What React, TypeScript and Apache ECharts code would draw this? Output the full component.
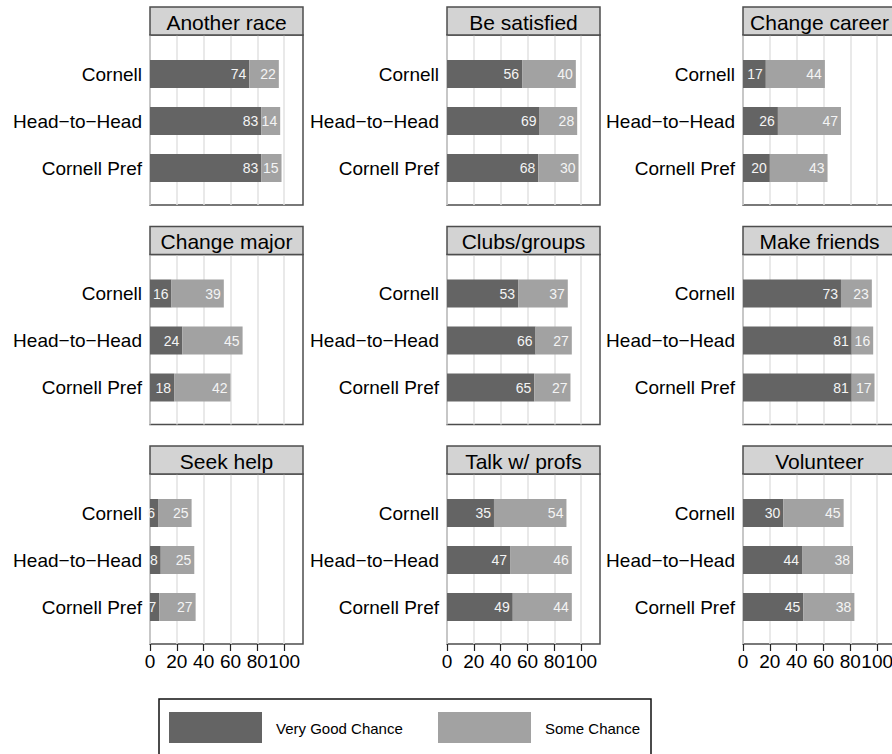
import React, { useEffect, useRef } from "react";
import * as echarts from "echarts";

// Panel titles, in reading order (3 x 3)
const panelTitles = [
  "Another race", "Be satisfied", "Change career",
  "Change major", "Clubs/groups", "Make friends",
  "Seek help", "Talk w/ profs", "Volunteer",
];

// Rows within every panel, top to bottom
const categories = ["Cornell", "Head\u2212to\u2212Head", "Cornell Pref"];

// Percent answering "Very Good Chance", per panel: [Cornell, Head-to-Head, Cornell Pref]
const veryGoodChance = [
  [74, 83, 83], [56, 69, 68], [17, 26, 20],
  [16, 24, 18], [53, 66, 65], [73, 81, 81],
  [6, 8, 7], [35, 47, 49], [30, 44, 45],
];

// Percent answering "Some Chance", same layout
const someChance = [
  [22, 14, 15], [40, 28, 30], [44, 47, 43],
  [39, 45, 42], [37, 27, 27], [23, 16, 17],
  [25, 25, 27], [54, 46, 44], [45, 38, 38],
];

const seriesNames = ["Very Good Chance", "Some Chance"];
const xTicks = [0, 20, 40, 60, 80, 100];

const FONT = '"Liberation Sans", Arial, Helvetica, sans-serif';
const DARK = "#646464";
const LIGHT = "#a2a2a2";
const BORDER = "#4d4d4d";

// panel geometry (the third column runs past the visible 892px frame)
const COL_X = [150, 447, 743];
const ROW_Y = [7, 226.5, 446];
const PLOT_W = 153;
const STRIP_H = 28;
const PLOT_H = 170;
const X_MAX = 114;
const CANVAS_W = 930;

function buildOption() {
  const grid: any[] = [];
  const xAxis: any[] = [];
  const yAxis: any[] = [];
  const series: any[] = [];
  const graphic: any[] = [];

  panelTitles.forEach((title, p) => {
    const row = Math.floor(p / 3);
    const col = p % 3;
    const left = COL_X[col];
    const stripTop = ROW_Y[row];
    const plotTop = stripTop + STRIP_H;
    const bottomRow = row === 2;

    // outer grid: panel frame, vertical reference lines, x axis
    const outer = grid.length;
    grid.push({
      left, top: plotTop, width: PLOT_W, height: PLOT_H,
      show: true, borderColor: BORDER, borderWidth: 1.5,
      backgroundColor: "transparent",
    });
    xAxis.push({
      type: "value", gridIndex: outer, min: 0, max: X_MAX, interval: 20,
      axisLine: { show: false },
      splitLine: { show: true, lineStyle: { color: "#e2e2e2", width: 1.5 } },
      axisTick: {
        show: bottomRow, length: 7, customValues: xTicks,
        lineStyle: { color: "#222", width: 1.2 },
      },
      axisLabel: {
        show: bottomRow, customValues: xTicks,
        fontSize: 19, fontFamily: FONT, color: "#000", margin: 8,
      },
    });
    yAxis.push({ type: "value", gridIndex: outer, min: 0, max: 1, show: false });

    // inner grid: the three bars
    const inner = grid.length;
    grid.push({ left, top: plotTop + 15.5, width: PLOT_W, height: 141 });
    xAxis.push({ type: "value", gridIndex: inner, min: 0, max: X_MAX, show: false });
    yAxis.push({
      type: "category", gridIndex: inner, data: categories, inverse: true,
      axisLine: { show: false }, axisTick: { show: false }, splitLine: { show: false },
      axisLabel: { fontSize: 19, fontFamily: FONT, color: "#000", margin: 8 },
    });

    [veryGoodChance[p], someChance[p]].forEach((vals, s) => {
      series.push({
        type: "bar", name: seriesNames[s],
        xAxisIndex: inner, yAxisIndex: inner, stack: "panel" + p,
        data: vals, barWidth: 28,
        itemStyle: { color: s === 0 ? DARK : LIGHT },
        label: {
          show: true, position: "insideRight", distance: 3,
          color: "#f4f4f4", fontSize: 14, fontFamily: FONT,
        },
      });
    });

    // strip with panel title
    graphic.push({
      type: "rect", z: 10,
      shape: { x: left, y: stripTop, width: PLOT_W, height: STRIP_H },
      style: { fill: "#d3d3d3", stroke: BORDER, lineWidth: 1.5 },
    });
    graphic.push({
      type: "text", z: 11, x: left + PLOT_W / 2, y: stripTop + STRIP_H / 2 + 1,
      style: {
        text: title, font: `21px ${FONT}`, fill: "#000",
        textAlign: "center", textVerticalAlign: "middle",
      },
    });
  });

  // legend box at the bottom
  graphic.push({
    type: "rect", z: 10,
    shape: { x: 159, y: 699, width: 492, height: 80 },
    style: { fill: "#fff", stroke: "#111", lineWidth: 1.5 },
  });
  const legendItems = [
    { x: 169, textX: 276, color: DARK, name: seriesNames[0] },
    { x: 438, textX: 545, color: LIGHT, name: seriesNames[1] },
  ];
  legendItems.forEach((it) => {
    graphic.push({
      type: "rect", z: 11,
      shape: { x: it.x, y: 712, width: 93, height: 31 },
      style: { fill: it.color },
    });
    graphic.push({
      type: "text", z: 11, x: it.textX, y: 728,
      style: {
        text: it.name, font: `15px ${FONT}`, fill: "#000",
        textAlign: "left", textVerticalAlign: "middle",
      },
    });
  });

  return { animation: false, backgroundColor: "#fff", grid, xAxis, yAxis, series, graphic };
}

export default function App() {
  const ref = useRef<HTMLDivElement>(null);
  useEffect(() => {
    if (!ref.current) return;
    const chart = echarts.init(ref.current, undefined, { renderer: "svg" });
    chart.setOption(buildOption() as any);
    return () => chart.dispose();
  }, []);
  return (
    <div
      style={{
        position: "absolute", left: 0, top: 0, width: 892, height: 754,
        overflow: "hidden", background: "#fff",
      }}
    >
      <div ref={ref} style={{ width: CANVAS_W, height: 754 }} />
    </div>
  );
}
